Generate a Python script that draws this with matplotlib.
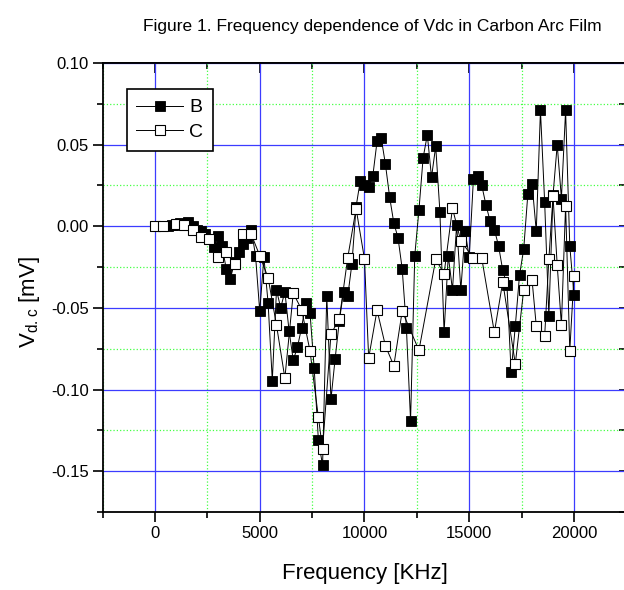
import numpy as np
import matplotlib
matplotlib.use("Agg")
from matplotlib import pyplot as plt
from matplotlib.ticker import MultipleLocator, NullFormatter, FormatStrFormatter

# B: measured every 200 Hz from 0 to 20000
b_freq = list(range(0, 20001, 200))
b_vdc = [
    0.000, 0.000, 0.000, 0.000, 0.001, 0.001, 0.002, 0.001, 0.0026, 0.000,
    -0.002, -0.003, -0.005, -0.008, -0.013, -0.006, -0.012, -0.026, -0.032, -0.022,
    -0.016, -0.011, -0.007, -0.002, -0.018, -0.052, -0.019, -0.047, -0.0945, -0.039,
    -0.050, -0.040, -0.064, -0.082, -0.074, -0.062, -0.047, -0.053, -0.087, -0.131,
    -0.1465, -0.0425, -0.106, -0.081, -0.058, -0.040, -0.043, -0.023, 0.012, 0.028,
    0.025, 0.024, 0.031, 0.052, 0.054, 0.038, 0.018, 0.002, -0.007, -0.026,
    -0.062, -0.119, -0.018, 0.010, 0.042, 0.056, 0.030, 0.049, 0.009, -0.065,
    -0.018, -0.039, 0.001, -0.039, -0.003, -0.019, 0.029, 0.031, 0.025, 0.013,
    0.003, -0.002, -0.012, -0.027, -0.036, -0.0895, -0.061, -0.030, -0.014, 0.020,
    0.026, -0.003, 0.071, 0.015, -0.055, 0.019, 0.050, 0.017, 0.071, -0.012,
    -0.042,
]

# C
c_freq = [0, 400, 1000, 1400, 1800, 2200, 2600, 3000, 3400, 3800,
          4200, 4600, 5000, 5400, 5800, 6200, 6600, 7000, 7400, 7800,
          8000, 8400, 8800, 9200, 9600, 10000, 10200, 10600, 11000, 11400,
          11800, 12600, 13400, 13800, 14200, 14600, 15200, 15600, 16200, 16600,
          17200, 17600, 18000, 18200, 18600, 18800, 19000, 19200, 19400, 19600,
          19800, 20000]
c_vdc = [0.000, 0.000, 0.0015, 0.001, -0.002, -0.0065, -0.008, -0.019, -0.016, -0.023,
         -0.0045, -0.005, -0.018, -0.0315, -0.0605, -0.093, -0.041, -0.051, -0.0764, -0.117,
         -0.1364, -0.066, -0.0567, -0.0193, 0.0108, -0.020, -0.0807, -0.0514, -0.0732, -0.0854,
         -0.052, -0.076, -0.0203, -0.029, 0.011, -0.0091, -0.0193, -0.0197, -0.065, -0.034,
         -0.0843, -0.039, -0.033, -0.061, -0.0675, -0.0203, 0.0183, -0.0238, -0.0605, 0.0126,
         -0.0762, -0.0305]

plt.rcParams['font.family'] = ['Liberation Sans', 'DejaVu Sans']
plt.rcParams['mathtext.fontset'] = 'custom'
plt.rcParams['mathtext.rm'] = 'Liberation Sans'
plt.rcParams['axes.unicode_minus'] = False

W, H = 624, 590
fig = plt.figure(figsize=(W / 100, H / 100), dpi=100)
# axes runs -2500..22500, right edge is cut off by the figure like the original
ax = fig.add_axes([102.6 / W, 78 / H, 523.75 / W, 449 / H])

ax.plot(b_freq, b_vdc, color='black', lw=0.7, marker='s', ms=6.5,
        mfc='black', mec='black', mew=0.6, label='B')
ax.plot(c_freq, c_vdc, color='black', lw=0.7, marker='s', ms=6.5,
        mfc='white', mec='black', mew=0.8, label='C')

ax.set_xlim(-2500, 22500)
ax.set_ylim(-0.175, 0.10)
ax.xaxis.set_major_locator(MultipleLocator(5000))
ax.xaxis.set_minor_locator(MultipleLocator(2500))
ax.yaxis.set_major_locator(MultipleLocator(0.05))
ax.yaxis.set_minor_locator(MultipleLocator(0.025))
ax.yaxis.set_major_formatter(FormatStrFormatter('%.2f'))

ax.set_axisbelow(True)
ax.grid(which='major', color='#3c3cff', lw=0.9, ls='-')
ax.grid(which='minor', color='#44ff44', lw=0.9, ls=':')

ax.tick_params(which='both', direction='out', top=False, right=False,
               labelsize=12, width=1.2, pad=3)
ax.tick_params(which='major', length=7)
ax.tick_params(which='minor', length=4)
for s in ax.spines.values():
    s.set_linewidth(1.3)

top = ax.secondary_xaxis('top')
top.xaxis.set_major_locator(MultipleLocator(5000))
top.xaxis.set_minor_locator(MultipleLocator(2500))
top.xaxis.set_major_formatter(NullFormatter())
top.tick_params(which='both', direction='in', width=1.2)
top.tick_params(which='major', length=7)
top.tick_params(which='minor', length=4)
top.spines['top'].set_linewidth(1.3)

right = ax.secondary_yaxis('right')
right.yaxis.set_major_locator(MultipleLocator(0.05))
right.yaxis.set_minor_locator(MultipleLocator(0.025))
right.yaxis.set_major_formatter(NullFormatter())
right.tick_params(which='both', direction='in', width=1.2, length=5)

ax.set_xlabel('Frequency [KHz]', fontsize=16)
ax.xaxis.set_label_coords(0.5, -0.113)
ax.set_ylabel(r'V$_{\mathregular{d.c}}$ [mV]', fontsize=16)
ax.yaxis.set_label_coords(-0.115, 0.468)

leg = ax.legend(loc='upper left', bbox_to_anchor=(0.046, 0.942), borderaxespad=0,
                fontsize=14, handlelength=2.4, fancybox=False, framealpha=1,
                edgecolor='black', borderpad=0.5, labelspacing=0.35, handletextpad=0.3,
                markerscale=1.1)
leg.get_frame().set_linewidth(1.2)

fig.text(372 / W, 1 - 31 / H, 'Figure 1. Frequency dependence of Vdc in Carbon Arc Film',
         ha='center', va='baseline', fontsize=12.5)

fig.savefig('out.png', dpi=100)
